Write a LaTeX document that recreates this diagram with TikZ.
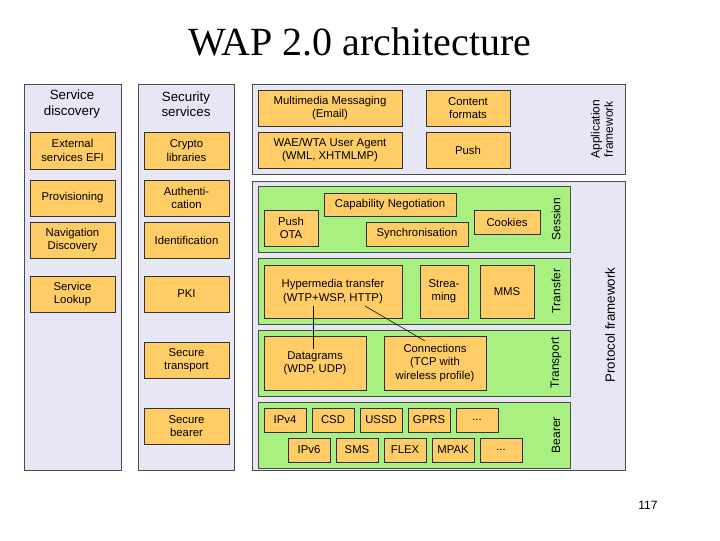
\documentclass[tikz,border=0pt]{standalone}
\usepackage{fontspec}
\setmainfont{Liberation Sans}
\newfontfamily\titlefont{Liberation Serif}
\usetikzlibrary{positioning}
\definecolor{lav}{HTML}{E6E6F5}
\definecolor{boxorange}{HTML}{FFCC66}
\definecolor{layergreen}{HTML}{A8F080}
% block from corner (x1,y1) to (x2,y2), in pixels
\newcommand{\blk}[7][obox]{%
  \node[#1, minimum width={(#5-#3)*0.75pt}, minimum height={(#6-#4)*0.75pt}]
    (#2) at ({(#3+#5)/2},{(#4+#6)/2}) {#7};}
\begin{document}
\begin{tikzpicture}[x=0.75pt, y=-0.75pt,
    frame/.style = {draw = black!70, fill = lav, inner sep = 0pt},
    layer/.style = {draw = black!70, fill = layergreen, inner sep = 0pt},
    obox/.style = {draw = black!80, fill = boxorange, inner sep = 0pt, align = center, font = \fontsize{8.5}{10}\selectfont},
    side/.style = {rotate = 90, font = \fontsize{9}{10}\selectfont, align = center},
    head/.style = {align = center, font = \fontsize{10}{11.5}\selectfont}
  ]
  \useasboundingbox (0,0) rectangle (720,540);
  \node[font = \titlefont\fontsize{30}{32}\selectfont] (title) at (360,42) {WAP 2.0 architecture};

  % left columns
  \blk[frame]{sdcol}{24}{84}{121}{470}{}
  \blk[frame]{seccol}{138}{84}{234}{470}{}
  \node[head] (sdhead) at (72,104) {Service\\discovery};
  \node[head] (sechead) at (186,104) {Security\\services};
  \blk{efi}{30}{132}{115}{169}{External\\services EFI}
  \blk{prov}{30}{180}{115}{216}{Provisioning}
  \blk{nav}{30}{222}{115}{258}{Navigation\\Discovery}
  \blk{look}{30}{276}{115}{312}{Service\\Lookup}
  \blk{crypto}{144}{132}{229}{169}{Crypto\\libraries}
  \blk{auth}{144}{180}{229}{216}{Authenti-\\cation}
  \blk{ident}{144}{222}{229}{258}{Identification}
  \blk{pki}{144}{276}{229}{312}{PKI}
  \blk{stran}{144}{342}{229}{378}{Secure\\transport}
  \blk{sbear}{144}{408}{229}{444}{Secure\\bearer}

  % application framework
  \blk[frame]{appfw}{252}{84}{625}{174}{}
  \blk{mms1}{258}{90}{402}{126}{Multimedia Messaging\\(Email)}
  \blk{wae}{258}{132}{402}{168}{WAE/WTA User Agent\\(WML, XHTMLMP)}
  \blk{content}{426}{90}{510}{126}{Content\\formats}
  \blk{push}{426}{132}{510}{168}{Push}
  \node[side] (applbl) at (602,129) {Application\\framework};

  % protocol framework
  \blk[frame]{protfw}{252}{181}{625}{470}{}
  \node[side, font = \fontsize{10}{11}\selectfont] (protlbl) at (610,325) {Protocol framework};
  \blk[layer]{session}{258}{186}{570}{252}{}
  \blk[layer]{transfer}{258}{258}{570}{324}{}
  \blk[layer]{transport}{258}{330}{570}{396}{}
  \blk[layer]{bearer}{258}{402}{570}{468}{}
  \node[side] at (556,219) {Session};
  \node[side] at (556,291) {Transfer};
  \node[side] at (556,363) {Transport};
  \node[side] at (556,435) {Bearer};

  \blk{capneg}{324}{193}{456}{216}{Capability Negotiation}
  \blk{pushota}{264}{210}{318}{246}{Push\\OTA}
  \blk{sync}{366}{222}{468}{246}{Synchronisation}
  \blk{cookies}{474}{210}{540}{234}{Cookies}

  \blk{hyper}{264}{265}{402}{318}{Hypermedia transfer\\(WTP+WSP, HTTP)}
  \blk{stream}{420}{265}{468}{318}{Strea-\\ming}
  \blk{mms}{480}{265}{534}{318}{MMS}

  \blk{dgram}{264}{336}{366}{390}{Datagrams\\(WDP, UDP)}
  \blk{conn}{384}{336}{486}{390}{Connections\\(TCP with\\wireless profile)}

  \blk{ipv4}{264}{408}{306}{432}{IPv4}
  \blk{csd}{312}{408}{354}{432}{CSD}
  \blk{ussd}{360}{408}{402}{432}{USSD}
  \blk{gprs}{408}{408}{450}{432}{GPRS}
  \blk{dotsa}{456}{408}{498}{432}{...}
  \blk{ipv6}{288}{438}{330}{462}{IPv6}
  \blk{sms}{336}{438}{378}{462}{SMS}
  \blk{flex}{384}{438}{426}{462}{FLEX}
  \blk{mpak}{432}{438}{474}{462}{MPAK}
  \blk{dotsb}{480}{438}{522}{462}{...}

  % links
  \coordinate (hypa) at (313,306);
  \coordinate (dga) at (313,349);
  \coordinate (hypb) at (365,306);
  \coordinate (cna) at (425,341);
  \draw (hypa) -- (dga);
  \draw[thin] (hypb) -- (cna);

  \node[font = \fontsize{9}{10}\selectfont] (page) at (648,505) {117};
\end{tikzpicture}
\end{document}
